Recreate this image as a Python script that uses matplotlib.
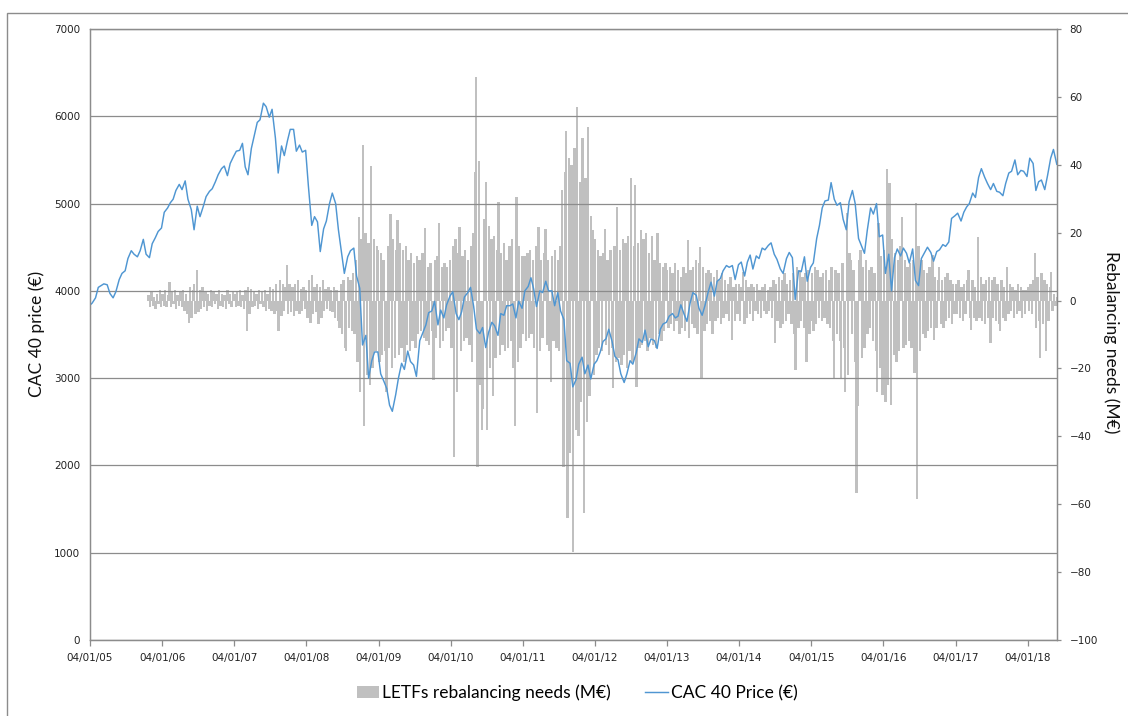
import matplotlib
matplotlib.use("Agg")
import matplotlib.pyplot as plt
import matplotlib.dates as mdates
import pandas as pd
from matplotlib.patches import Rectangle, Patch
from matplotlib.lines import Line2D

# ---------------- data ----------------
# CAC 40 price, values on the 1st and 15th of each month
price_2005 = [3830, 3860, 3920, 4040, 4060, 4080, 4070, 3970, 3920, 3990, 4130, 4200,
              4230, 4370, 4460, 4420, 4390, 4460, 4590, 4420, 4380, 4540, 4610, 4680]
price_2006 = [4720, 4900, 4950, 5010, 5050, 5150, 5220, 5160, 5260, 5050, 4930, 4700,
              4970, 4850, 4970, 5080, 5140, 5170, 5250, 5330, 5400, 5430, 5320, 5460]
price_2007 = [5540, 5600, 5610, 5690, 5420, 5330, 5630, 5770, 5930, 5960, 6150, 6110,
              5990, 6080, 5750, 5350, 5660, 5550, 5720, 5850, 5850, 5600, 5670, 5590]
price_2008 = [5610, 5200, 4750, 4850, 4790, 4450, 4710, 4800, 5000, 5120, 5000, 4700,
              4430, 4200, 4390, 4460, 4490, 4170, 4030, 3380, 3490, 3000, 3200, 3300]
price_2009 = [3300, 3050, 2960, 2880, 2690, 2620, 2810, 3000, 3170, 3100, 3310, 3190,
              3150, 3020, 3430, 3510, 3610, 3750, 3770, 3880, 3610, 3780, 3690, 3840]
price_2010 = [3940, 3990, 3740, 3670, 3760, 3930, 3980, 4040, 3820, 3560, 3510, 3580,
              3350, 3520, 3640, 3600, 3490, 3740, 3720, 3830, 3830, 3850, 3690, 3880]
price_2011 = [3800, 4000, 4050, 4150, 4020, 3820, 4000, 3980, 4110, 4000, 4000, 3830,
              3980, 3770, 3670, 3200, 3170, 2900, 2980, 3160, 3240, 3050, 3150, 2990]
price_2012 = [3160, 3200, 3300, 3420, 3450, 3560, 3420, 3250, 3210, 3050, 2950, 3050,
              3200, 3160, 3290, 3450, 3410, 3550, 3360, 3450, 3430, 3340, 3560, 3620]
price_2013 = [3640, 3710, 3740, 3690, 3710, 3840, 3730, 3650, 3860, 3980, 3950, 3800,
              3720, 3830, 3990, 4100, 3940, 4110, 4140, 4230, 4290, 4270, 4290, 4130]
price_2014 = [4300, 4330, 4170, 4330, 4410, 4250, 4400, 4370, 4490, 4470, 4520, 4550,
              4420, 4360, 4250, 4200, 4370, 4440, 4380, 3900, 4230, 4220, 4390, 4110]
price_2015 = [4270, 4320, 4600, 4750, 4950, 5030, 5040, 5240, 5050, 4980, 5010, 4820,
              4700, 5020, 5150, 5000, 4600, 4520, 4430, 4690, 4950, 4880, 5000, 4620]
price_2016 = [4640, 4200, 4420, 4000, 4380, 4480, 4400, 4490, 4430, 4320, 4480, 4120,
              4060, 4370, 4440, 4500, 4440, 4340, 4450, 4470, 4530, 4510, 4560, 4830]
price_2017 = [4860, 4890, 4800, 4900, 4960, 5000, 5120, 5070, 5300, 5400, 5300, 5230,
              5160, 5230, 5140, 5130, 5090, 5230, 5350, 5370, 5500, 5330, 5380, 5370]
price_2018 = [5310, 5520, 5460, 5150, 5250, 5270, 5160, 5320, 5520, 5620, 5450]

# LETFs rebalancing needs (M EUR), weekly values
reb_2005 = [1.5, -2, 2.5, -1.5, 1, -2.5, 2, -1, 3, -2]
reb_2006 = [2, -1.5, 3, -2, 1.5, 5.5, -2, 2.5, -1, 3, -2.5, 1.5, -1.5, 2.5, -2, 3, -3, 2,
            -4, -6.5, 4, -5, 3, 5, -4, 9, -3.5, 3, -2.5, 4, -2, 2.5, -3, 2, -1.5, 3, -2,
            2.5, -1, 2, -2.5, 3, -1.5, 2, -2, 1.5, -2.5, 3, -1, 2, -2, 2.5]
reb_2007 = [2, -2, 2.5, -1.5, 3, -2, 1.5, -2.5, 3, -9, 4, -4, 3.5, -2, 2.5, -1.5, 2, -2.5,
            3, -1, 2.5, -2, 3, -3, 2, -2.5, 4, -3, 3.5, -4, 5, -3, -9, 6, -4.5, 5, -3, 4,
            10.5, -4, 5, -3.5, 4, -4.5, 5, -3, 6, -4, 3.5, -3, 4, -2.5]
reb_2008 = [3, -5, 6, -6.5, 7.5, -4, 4, -3.5, 5, -7, 4, -5, 6, -3, 3.5, -2.5, 4, -3, 3,
            -3.5, 4, -5, 3, -6, -8, 5, -10, 6, -14, -15, 7, -8, 6, -9, 8, -10, 12, -18,
            24.7, -27, 18, 45.8, -37, 20, -22, 17, -25, 39.7, -20, 18, -15, 16]
reb_2009 = [15, -18, 14, -16, 12, -15, -27, 16, -14, 25.5, -20, 18, -17, 15, 23.7, -16,
            17, -14, 15, -18, 16, -13, 12, -15, 14, -12, 11, -14, 13, -10, 12, -9, 14,
            -11, 21.4, -12, 10, -13, 11, -9, -23.4, 12, -11, 13, 22.8, -14, 10, -12, 11,
            -9, 10, -8]
reb_2010 = [12, -14, 16, -46, 18, -27, 14, 21.8, -15, 13, -12, 15, -11, 12, -13, 16, -18,
            20, 38, 66, -49, 41, -25, -38, -32, 24, 35, -38, 22, -20, 18, -28, 19, -17,
            15, 29, -16, 14, -13, 17, -15, 12, -14, 16, -12, 18, -20, -37, 30.6, -18, 16,
            -14, 13]
reb_2011 = [-10, 13, -12, 14, -11, 15, -10, 12, -14, 16, -33, 21.8, -15, 12, -11, 14, 21,
            -13, 12, -15, -24, 13, -12, 15, -14, 12, -15, 16, 32.6, -49, 38, 50, -64, 42,
            -45, 40, -74, 45, -38, 57, -40, 35, -30, 48, -62.7, 36, -35.7, 51, -28, 25,
            20.8, -22]
reb_2012 = [18, -16, 15, -14, 13, -15, 14, 21, -13, 12, -16, 15, -14, -25.7, 16, -18, 27.7,
            -17, 15, -19, 18, -16, 17, -20, 19, -15, 36, -18, 16, 34, -25.4, 17, -14, 20.8,
            -13, 18, -12, 20, -15, 14, -11, 19, -13, 12, -14, 20, -10, 11, -12, 10, -9, 11]
reb_2013 = [9, -8, 10, -7, 8, -9, 11, -6, 9, -10, 7, -8, 10, -9, 8, 17.8, -11, 9, -7, 10,
            -8, 12, -10, 11, 15.9, -23, 10, -9, 8, -7, 9, -6, 8, -10, 7, -6, 9, -5, 6, -7,
            8, -5, 6, -4, 5, -6, 7, -11.6, 4, -6, 5, -4]
reb_2014 = [5, -6, 4, 8.5, -7, 6, -5, 4, -4, 5, -6, 4, -3, 5, -4, 3, -5, 4, -3, 5, -4, 3,
            -3, 4, -5, 6, -12.5, 5, -6, 7, -8, 6, -7, 8, -6, 5, -4, 6, -7, 8, -10, -20.4,
            10, -8, 9, -6, 7, -8, 8, -18, 9, -10]
reb_2015 = [-6, 8, -9, 10, -7, 9, -5, 7, -6, 8, -5, 9, -7, 6, -8, 10, -12, -22.8, 9, -10,
            8, -12, -23, 11, -14, -27, 25.7, -22, 14, 12, -10, 9, -18, -56.8, -31, 12, 15,
            -17, 10, -14, 12, -10, 9, -8, 10, -12, 8, -15, -27, 22.8, -20, 13]
reb_2016 = [-27.8, 15, -30, 38.7, -25, 34.5, -30.8, 18, -16, 14, -18, 12, -15, 16, 24.7,
            -14, 12, -13, 10, -12, 11, -14, 12, -21.4, 28.7, -58.5, 16, -15, 12, -10, 9,
            -11, 8, -9, 10, -8, 13.4, -11.6, 7, -8, 6, 10, -7, 6, -8, 7, -6, 8, -5, 6, -7,
            5, -4]
reb_2017 = [5, -4, 6, -5, 4, -6, 5, -4, 6, 9, -5, -8.7, 6, -5, 4, -6, 18.6, -5, 7, -6, 5,
            -7, 6, -5, 7, -12.6, 6, -5, 7, -6, 5, -7, -9, 6, -5, 4, -6, 10, -4, 5, -3, 4,
            -5, 3, -4, 5, -3, 4, -5, 3, -4, 3]
reb_2018 = [4, -3, 5, -4, 6, 14, -8, 7, -6, -17, 8, -7, 6, -15, 5, -6, 4, 8.5, -3, 2,
            -1.5, 1]

x_tick_years = list(range(2005, 2019))

price_by_year = {2005: price_2005, 2006: price_2006, 2007: price_2007, 2008: price_2008,
                 2009: price_2009, 2010: price_2010, 2011: price_2011, 2012: price_2012,
                 2013: price_2013, 2014: price_2014, 2015: price_2015, 2016: price_2016,
                 2017: price_2017, 2018: price_2018}
reb_by_year = {2005: reb_2005, 2006: reb_2006, 2007: reb_2007, 2008: reb_2008,
               2009: reb_2009, 2010: reb_2010, 2011: reb_2011, 2012: reb_2012,
               2013: reb_2013, 2014: reb_2014, 2015: reb_2015, 2016: reb_2016,
               2017: reb_2017, 2018: reb_2018}

price_dates, price_vals = [], []
for y, vals in price_by_year.items():
    price_dates += list(pd.date_range(f"{y}-01-01", periods=len(vals), freq="SMS"))
    price_vals += vals

reb_dates, reb_vals = [], []
for y, vals in reb_by_year.items():
    start = "2005-10-24" if y == 2005 else f"{y}-01-01"
    reb_dates += list(pd.date_range(start, periods=len(vals), freq="W-FRI"))
    reb_vals += vals

# ---------------- style ----------------
GRID = "#8c8c8c"
BAR = "#C0C0C0"
BLUE = "#4F96D2"
TXT = "#222222"

fig = plt.figure(figsize=(11.28, 7.16), dpi=100)
W, H = 1128, 716
ax = fig.add_axes([90 / W, (H - 640) / H, (1057 - 90) / W, (640 - 29) / H])
ax2 = ax.twinx()

ax2.bar(reb_dates, reb_vals, width=12, color=BAR, linewidth=0)
ax.plot(price_dates, price_vals, color=BLUE, lw=1.05)

ax.set_zorder(ax2.get_zorder() + 1)
ax.patch.set_visible(False)

ax.set_ylim(0, 7000)
ax.set_yticks(range(0, 7001, 1000))
ax2.set_ylim(-100, 80)
ax2.set_yticks(range(-100, 81, 20))

ax.set_xlim(pd.Timestamp("2005-01-04"), pd.Timestamp("2018-06-02"))
ax.set_xticks([pd.Timestamp(f"{y}-01-04") for y in x_tick_years])
ax.xaxis.set_major_formatter(mdates.DateFormatter("%d/%m/%y"))

ax.yaxis.grid(True, color=GRID, lw=0.9)
ax.xaxis.grid(False)

for a in (ax, ax2):
    for s in a.spines.values():
        s.set_color(GRID)
        s.set_linewidth(0.9)

ax.tick_params(axis="y", length=0, pad=7, labelsize=7.5, labelcolor=TXT)
ax.tick_params(axis="x", length=4, width=0.9, color=GRID, pad=5, labelsize=7.5,
               labelcolor=TXT)
ax2.tick_params(axis="y", length=3, width=0.9, color=GRID, pad=6, labelsize=7.5,
                labelcolor=TXT)

lab_font = {"family": "Lato", "size": 12.5, "color": "#111111"}
fig.text(36.5 / W, 1 - 333.5 / H, "CAC 40 price (€)", rotation=90, ha="center",
         va="center", fontdict=lab_font)
fig.text(1111.5 / W, 1 - 342 / H, "Rebalancing needs (M€)", rotation=270, ha="center",
         va="center", fontdict=lab_font)

handles = [Patch(facecolor=BAR, edgecolor="none", label="LETFs rebalancing needs (M€)"),
           Line2D([], [], color=BLUE, lw=1.05, label="CAC 40 Price (€)")]
fig.legend(handles=handles, loc="center", bbox_to_anchor=(577 / W, (H - 693) / H),
           ncol=2, frameon=False, prop={"family": "Lato", "size": 12.5},
           handlelength=1.3, handletextpad=0.15, columnspacing=2.0)

fig.add_artist(Rectangle((7 / W, -0.05), 1.2, (H - 13) / H + 0.05,
                         transform=fig.transFigure, fill=False, edgecolor=GRID, lw=1.0))

fig.savefig("out.png", dpi=100)
